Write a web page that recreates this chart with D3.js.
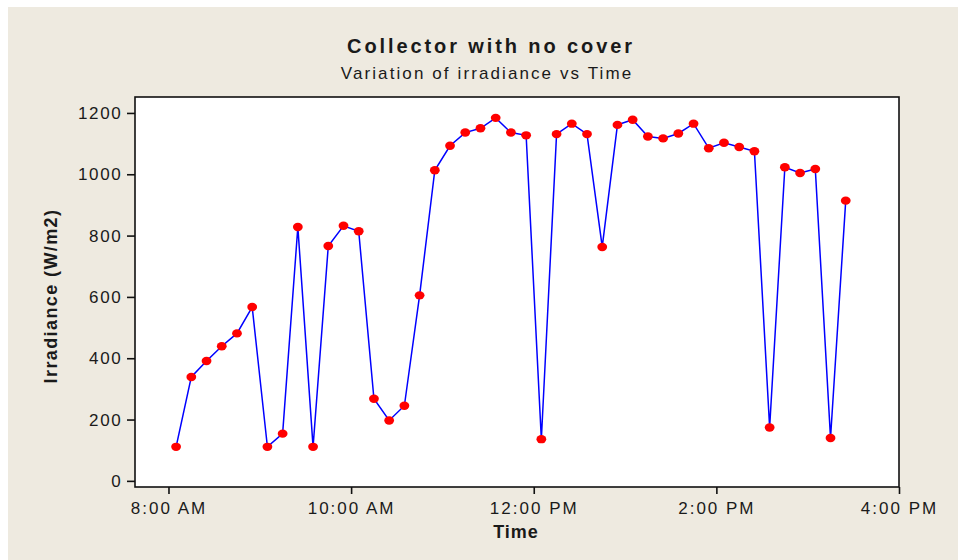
<!DOCTYPE html>
<html>
<head>
<meta charset="utf-8">
<script src="https://cdn.jsdelivr.net/npm/d3@7"></script>
<style>
  html, body { margin: 0; padding: 0; background: #ffffff; }
  svg { display: block; }
  text { font-family: "Liberation Sans", Arial, sans-serif; fill: #1a1a1a; }
</style>
</head>
<body>
<svg id="chart" width="958" height="560"></svg>
<script>
// Measurement times (24h clock) and irradiance readings in W/m2
const times = [
  "08:05","08:15","08:25","08:35","08:45","08:55","09:05","09:15","09:25","09:35",
  "09:45","09:55","10:05","10:15","10:25","10:35","10:45","10:55","11:05","11:15",
  "11:25","11:35","11:45","11:55","12:05","12:15","12:25","12:35","12:45","12:55",
  "13:05","13:15","13:25","13:35","13:45","13:55","14:05","14:15","14:25","14:35",
  "14:45","14:55","15:05","15:15","15:25"
];
const irradiance = [
  111, 339, 391, 439, 481, 567, 111, 154, 828, 111,
  766, 832, 814, 268, 197, 245, 605, 1013, 1093, 1136,
  1150, 1184, 1136, 1127, 136, 1131, 1165, 1131, 763, 1161,
  1178, 1123, 1117, 1133, 1165, 1085, 1103, 1089, 1075, 174,
  1023, 1004, 1017, 140, 914
];
const xTickTimes = ["08:00", "10:00", "12:00", "14:00", "16:00"];
const yTickValues = [0, 200, 400, 600, 800, 1000, 1200];

const titleText = "Collector with no cover";
const subtitleText = "Variation of irradiance vs Time";
const xTitle = "Time";
const yTitle = "Irradiance (W/m2)";

const parseTime = d3.timeParse("%H:%M");
const fmtTime = d3.timeFormat("%-I:%M %p");

const data = times.map((t, i) => ({ t: parseTime(t), v: irradiance[i] }));

const svg = d3.select("#chart");

// panel background
svg.append("rect")
  .attr("x", 8).attr("y", 7).attr("width", 950).attr("height", 553)
  .attr("fill", "#eeeae0");

const plot = { left: 135, top: 97, right: 899, bottom: 487 };

const x = d3.scaleTime()
  .domain([parseTime("07:38"), parseTime("16:00")])
  .range([plot.left, plot.right]);

const y = d3.scaleLinear()
  .domain([-20, 1252])
  .range([plot.bottom, plot.top]);

// plot area
svg.append("rect")
  .attr("x", plot.left).attr("y", plot.top)
  .attr("width", plot.right - plot.left).attr("height", plot.bottom - plot.top)
  .attr("fill", "#ffffff")
  .attr("stroke", "#111111").attr("stroke-width", 1.6);

// x axis
const xAxis = svg.append("g")
  .attr("transform", `translate(0,${plot.bottom})`)
  .call(d3.axisBottom(x)
    .tickValues(xTickTimes.map(parseTime))
    .tickFormat(fmtTime)
    .tickSize(7).tickSizeOuter(0).tickPadding(8));
xAxis.select(".domain").remove();
xAxis.selectAll(".tick line").attr("stroke", "#111").attr("stroke-width", 1.6);
xAxis.selectAll(".tick text")
  .attr("font-size", 17).attr("letter-spacing", "2px")
  .attr("fill", "#1a1a1a")
  .style("font-family", "'Liberation Sans', Arial, sans-serif");

// y axis
const yAxis = svg.append("g")
  .attr("transform", `translate(${plot.left},0)`)
  .call(d3.axisLeft(y)
    .tickValues(yTickValues)
    .tickFormat(d3.format("d"))
    .tickSize(8).tickSizeOuter(0).tickPadding(4.5));
yAxis.select(".domain").remove();
yAxis.selectAll(".tick line").attr("stroke", "#111").attr("stroke-width", 1.6);
yAxis.selectAll(".tick text")
  .attr("font-size", 17).attr("letter-spacing", "1.7px")
  .attr("fill", "#1a1a1a")
  .style("font-family", "'Liberation Sans', Arial, sans-serif");

// series line
const line = d3.line().x(d => x(d.t)).y(d => y(d.v));
svg.append("path")
  .datum(data)
  .attr("d", line)
  .attr("fill", "none")
  .attr("stroke", "#0000ff")
  .attr("stroke-width", 1.5);

// markers
svg.append("g").selectAll("ellipse")
  .data(data)
  .join("ellipse")
  .attr("cx", d => x(d.t))
  .attr("cy", d => y(d.v))
  .attr("rx", 4.9).attr("ry", 4.2)
  .attr("fill", "#ff0000");

// titles
svg.append("text")
  .attr("x", 491).attr("y", 53)
  .attr("text-anchor", "middle")
  .attr("font-size", 20).attr("font-weight", "bold")
  .attr("letter-spacing", "2.9px")
  .text(titleText);

svg.append("text")
  .attr("x", 487).attr("y", 79)
  .attr("text-anchor", "middle")
  .attr("font-size", 17)
  .attr("letter-spacing", "2.1px")
  .text(subtitleText);

svg.append("text")
  .attr("x", 516).attr("y", 538)
  .attr("text-anchor", "middle")
  .attr("font-size", 18).attr("font-weight", "bold")
  .attr("letter-spacing", "1px")
  .text(xTitle);

svg.append("text")
  .attr("transform", "translate(56.5,296) rotate(-90)")
  .attr("text-anchor", "middle")
  .attr("font-size", 18).attr("font-weight", "bold")
  .attr("letter-spacing", "1.4px")
  .text(yTitle);
</script>
</body>
</html>
